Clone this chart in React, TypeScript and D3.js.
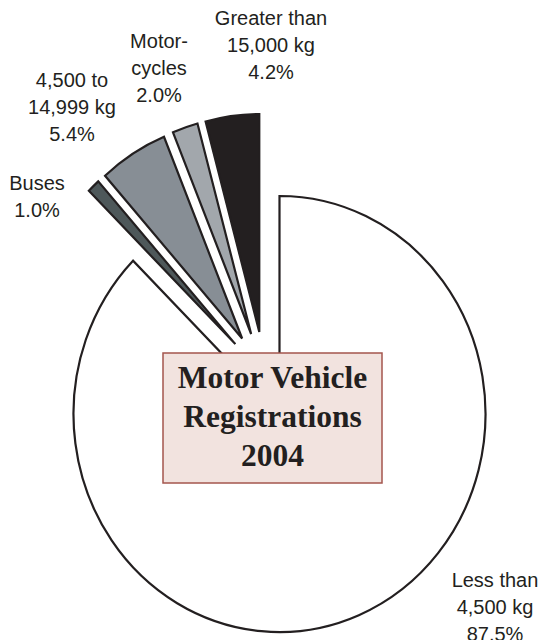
import React from "react";
import * as d3 from "d3";

// ---- data ----
const categories = ["Less than 4,500 kg", "Buses", "4,500 to 14,999 kg", "Motorcycles", "Greater than 15,000 kg"];
const shares = [87.5, 1.0, 5.4, 2.0, 4.2];
const labelLines = [
  ["Less than", "4,500 kg", "87.5%"],
  ["Buses", "1.0%"],
  ["4,500 to", "14,999 kg", "5.4%"],
  ["Motor-", "cycles", "2.0%"],
  ["Greater than", "15,000 kg", "4.2%"],
];
const titleLines = ["Motor Vehicle", "Registrations", "2004"];

// ---- styles / layout ----
const W = 541, H = 640;
const CX = 279.5, CY = 414, R = 218, SX = 0.945;
const GROUP_EXPLODE = 40, SLICE_EXPLODE = 45.5;
const fills = ["#ffffff", "#4e585a", "#878e95", "#a2a7ac", "#231f20"];
const labelPos = [
  [495, 587], [37, 190], [72, 87], [159, 48], [271, 25],
];

export default function App() {
  const pie = d3.pie<number>().sort(null).value((d) => d);
  const arcs = pie(shares);
  const arcGen = d3.arc<d3.PieArcDatum<number>>().innerRadius(0).outerRadius(R);
  const small = arcs.slice(1);
  const gStart = small[0].startAngle;
  const gEnd = small[small.length - 1].endAngle;
  const gMid = (gStart + gEnd) / 2;
  const gx = Math.sin(gMid) * GROUP_EXPLODE;
  const gy = -Math.cos(gMid) * GROUP_EXPLODE;

  return (
    <svg width={W} height={H} style={{ position: "absolute", left: 0, top: 0 }}>
      <rect width={W} height={H} fill="#ffffff" />
      <g transform={`translate(${CX},${CY}) scale(${SX},1)`}>
        {arcs.map((a, i) => {
          let tx = 0, ty = 0;
          if (i > 0) {
            const m = (a.startAngle + a.endAngle) / 2;
            tx = gx + Math.sin(m) * SLICE_EXPLODE;
            ty = gy - Math.cos(m) * SLICE_EXPLODE;
          }
          return (
            <path
              key={categories[i]}
              d={arcGen(a) || ""}
              transform={`translate(${tx},${ty})`}
              fill={fills[i]}
              stroke="#231f20"
              strokeWidth={2.2}
              strokeLinejoin="miter"
              vectorEffect="non-scaling-stroke"
            />
          );
        })}
      </g>
      <rect x={163} y={353} width={219} height={130} fill="#f2e3df" stroke="#a4564e" strokeWidth={1.5} />
      {titleLines.map((t, i) => (
        <text
          key={t}
          x={272.5}
          y={388 + i * 39}
          textAnchor="middle"
          fontFamily="'Liberation Serif', 'Times New Roman', serif"
          fontWeight="bold"
          fontSize={31.5}
          fill="#231f20"
        >
          {t}
        </text>
      ))}
      {labelLines.map((lines, i) => (
        <text
          key={categories[i]}
          textAnchor="middle"
          fontFamily="'Liberation Sans', Arial, sans-serif"
          fontSize={20}
          fill="#231f20"
        >
          {lines.map((l, j) => (
            <tspan key={j} x={labelPos[i][0]} y={labelPos[i][1] + j * 27}>
              {l}
            </tspan>
          ))}
        </text>
      ))}
    </svg>
  );
}
